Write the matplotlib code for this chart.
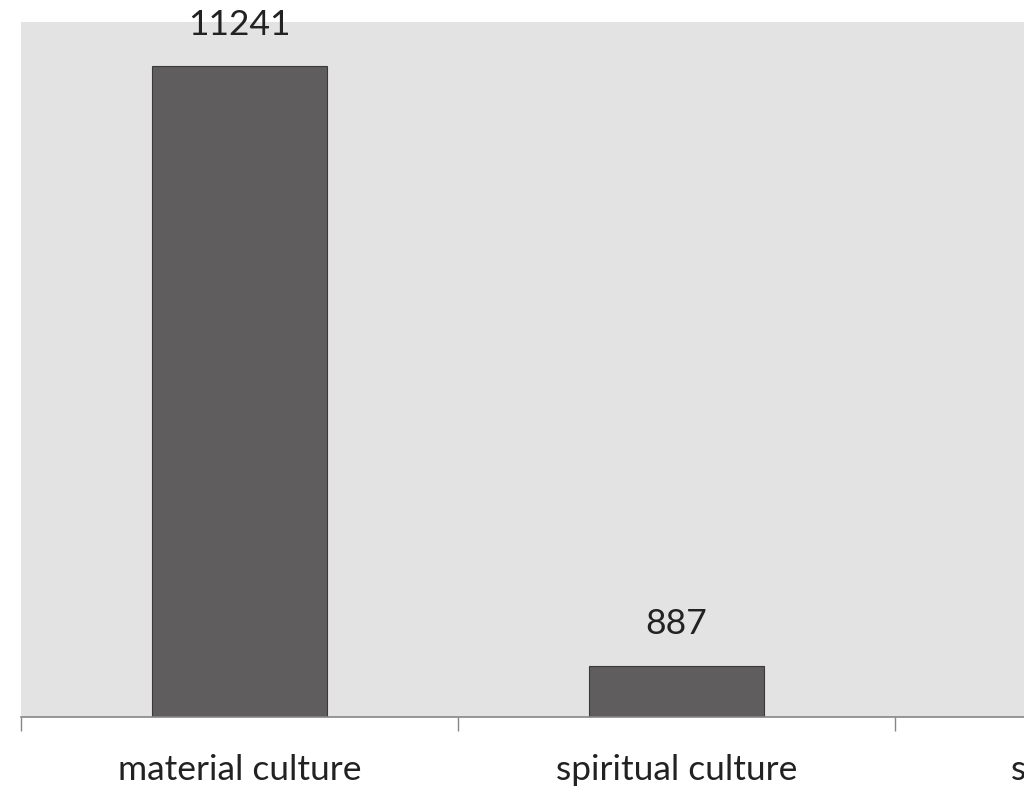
import numpy as np
import matplotlib.pyplot as plt

plt.rcParams["font.family"] = ["Lato", "DejaVu Sans"]

categories = ['material culture', 'spiritual culture', 'social culture']
counts = [11241, 887, 400]

fig = plt.figure(figsize=(10.24, 8.12), dpi=100)
# plot area runs past the right edge, as in the cropped original
ax = fig.add_axes([21/1024, 94/812, 1311/1024, 695/812])
ax.set_facecolor('#e3e3e3')

x = np.arange(len(categories))
bars = ax.bar(x, counts, 0.40, color='#5f5d5e', edgecolor='#3a3a3a', linewidth=0.8, zorder=2)

for b, v in zip(bars, counts):
    ax.annotate(str(v), (b.get_x() + b.get_width()/2, v), xytext=(0, 19),
                textcoords='offset points', ha='center', va='bottom',
                fontsize=25.5, color='#222222')

ax.set_xlim(-0.5, len(categories) - 0.5)
ax.set_ylim(0, 12000)
ax.set_yticks([])

ax.set_xticks(x)
ax.set_xticklabels(categories, fontsize=25.5, color='#222222')
ax.tick_params(axis='x', length=0, pad=26)
ax.set_xticks(np.arange(len(categories) + 1) - 0.5, minor=True)
ax.tick_params(axis='x', which='minor', length=10, width=1, color='#868686', direction='out')

for s in ['top', 'right', 'left']:
    ax.spines[s].set_visible(False)
ax.spines['bottom'].set_color('#868686')
ax.spines['bottom'].set_linewidth(1.2)

fig.savefig('out.png', dpi=100)
